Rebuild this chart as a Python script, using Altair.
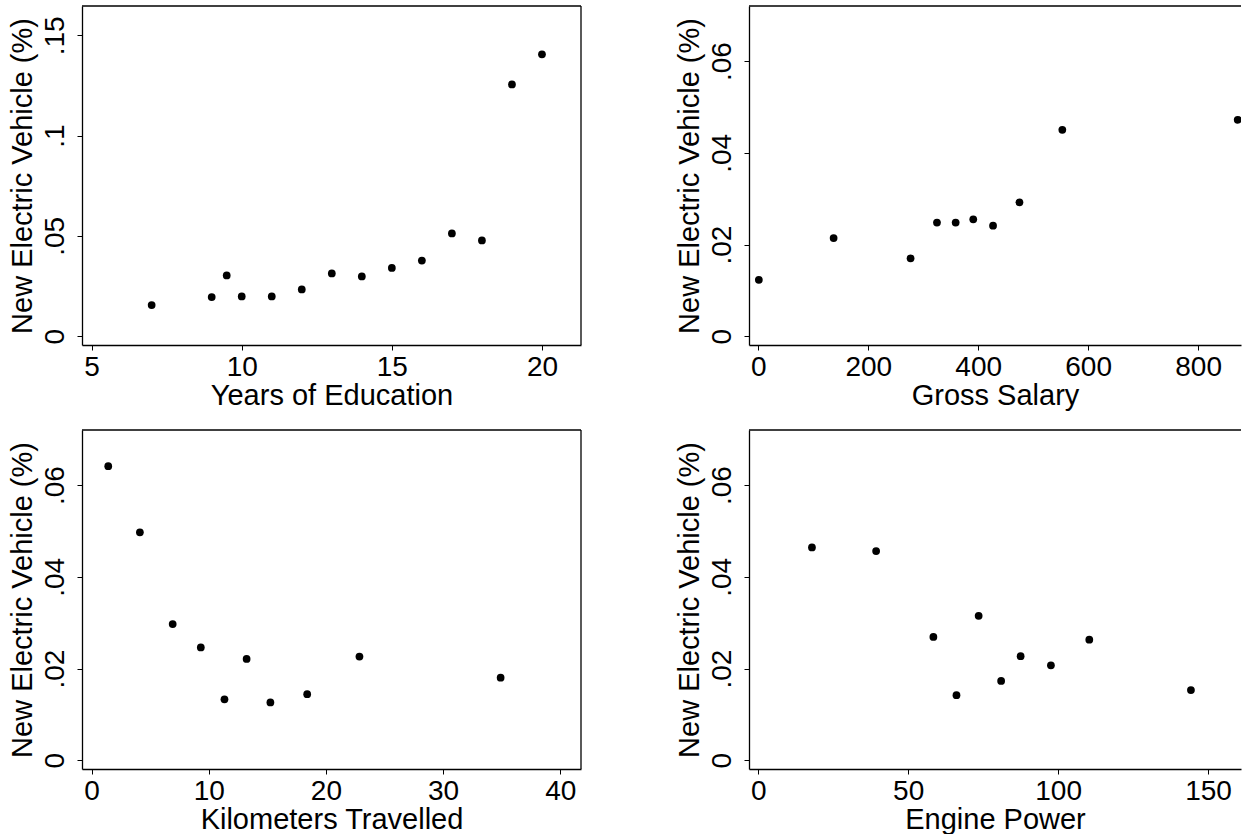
import altair as alt
import pandas as pd

# ---- data ----
edu_x = [7, 9, 9.5, 10, 11, 12, 13, 14, 15, 16, 17, 18, 19, 20]
edu_y = [0.0155, 0.0195, 0.0303, 0.0198, 0.0198, 0.0233, 0.0313, 0.0298,
         0.0340, 0.0377, 0.0512, 0.0477, 0.1255, 0.1405]

salary_x = [1, 137, 277, 325, 359, 391, 427, 475, 553, 872]
salary_y = [0.0123, 0.0214, 0.0170, 0.0248, 0.0248, 0.0255, 0.0241, 0.0292,
            0.0450, 0.0472]

km_x = [1.42, 4.12, 6.92, 9.32, 11.34, 13.23, 15.26, 18.40, 22.86, 34.91]
km_y = [0.0641, 0.0497, 0.0297, 0.0246, 0.0133, 0.0221, 0.0126, 0.0144,
        0.0226, 0.0180]

power_x = [17.9, 39.3, 58.4, 66.1, 73.5, 81.0, 87.5, 97.6, 110.4, 144.3]
power_y = [0.0464, 0.0456, 0.0269, 0.0142, 0.0315, 0.0173, 0.0227, 0.0207,
           0.0263, 0.0153]

Y_TITLE = "New Electric Vehicle (%)"
FONT = "Liberation Sans"
INK = "#000000"

W_LEFT = 499
W_RIGHT = 492
H = 339


def panel(xs, ys, xtitle, xdomain, xticks, ydomain, yticks, w, h, full_frame):
    df = pd.DataFrame({"x": xs, "y": ys})
    xaxis = alt.Axis(
        values=xticks, format="d", title=xtitle, grid=False,
        tickSize=5, tickWidth=1, tickColor=INK,
        domainColor=INK, domainWidth=1.3,
        labelFont=FONT, labelFontSize=28, labelColor=INK,
        labelBaseline="alphabetic", labelPadding=25,
        labelFlush=False, labelOverlap=False,
        titleFont=FONT, titleFontSize=29, titleColor=INK, titleFontWeight="normal",
        titleBaseline="alphabetic", titleAlign="center", titleX=w / 2, titleY=59,
    )
    yaxis = alt.Axis(
        values=yticks, grid=False,
        labelExpr="datum.value == 0 ? '0' : replace(format(datum.value, '.2~f'), '0.', '.')",
        title=Y_TITLE,
        tickSize=5, tickWidth=1, tickColor=INK,
        domainColor=INK, domainWidth=1.3,
        labelFont=FONT, labelFontSize=28, labelColor=INK,
        labelAngle=270, labelAlign="center", labelBaseline="alphabetic",
        labelPadding=14, labelFlush=False, labelOverlap=False,
        titleFont=FONT, titleFontSize=29, titleColor=INK, titleFontWeight="normal",
        titleAngle=270, titleAlign="center", titleBaseline="alphabetic",
        titleX=-51, titleY=h / 2,
    )
    pts = alt.Chart(df).mark_circle(size=60, color=INK, opacity=1, clip=True).encode(
        x=alt.X("x:Q", scale=alt.Scale(domain=xdomain, nice=False, zero=False), axis=xaxis),
        y=alt.Y("y:Q", scale=alt.Scale(domain=ydomain, nice=False, zero=False), axis=yaxis),
    )
    one = pd.DataFrame({"k": [0]})
    layers = [pts,
              alt.Chart(one).mark_rule(color=INK, strokeWidth=1.3).encode(
                  x=alt.value(0), x2=alt.value(w), y=alt.value(0))]
    if full_frame:
        layers.append(alt.Chart(one).mark_rule(color=INK, strokeWidth=1.3).encode(
            x=alt.value(w), y=alt.value(0), y2=alt.value(h)))
    return alt.layer(*layers).properties(width=w, height=h)


p1 = panel(edu_x, edu_y, "Years of Education", [4.68, 21.30], [5, 10, 15, 20],
           [-0.0044, 0.1646], [0, 0.05, 0.1, 0.15], W_LEFT, H, True)
p2 = panel(salary_x, salary_y, "Gross Salary", [-16.9, 878], [0, 200, 400, 600, 800],
           [-0.0019, 0.0720], [0, 0.02, 0.04, 0.06], W_RIGHT, H, False)
p3 = panel(km_x, km_y, "Kilometers Travelled", [-0.82, 41.77], [0, 10, 20, 30, 40],
           [-0.0019, 0.0720], [0, 0.02, 0.04, 0.06], W_LEFT, H, True)
p4 = panel(power_x, power_y, "Engine Power", [-3.1, 161.0], [0, 50, 100, 150],
           [-0.0019, 0.0720], [0, 0.02, 0.04, 0.06], W_RIGHT, H, False)

chart = alt.concat(
    p1, p2, p3, p4, columns=2,
    spacing={"row": 85, "column": 168}, bounds="flush", align="each",
).properties(
    padding={"left": 7, "top": 5, "right": 0, "bottom": 0},
    background="white",
).configure_view(stroke=None)

chart.save("out.html", embed_options={"renderer": "svg", "actions": False})
